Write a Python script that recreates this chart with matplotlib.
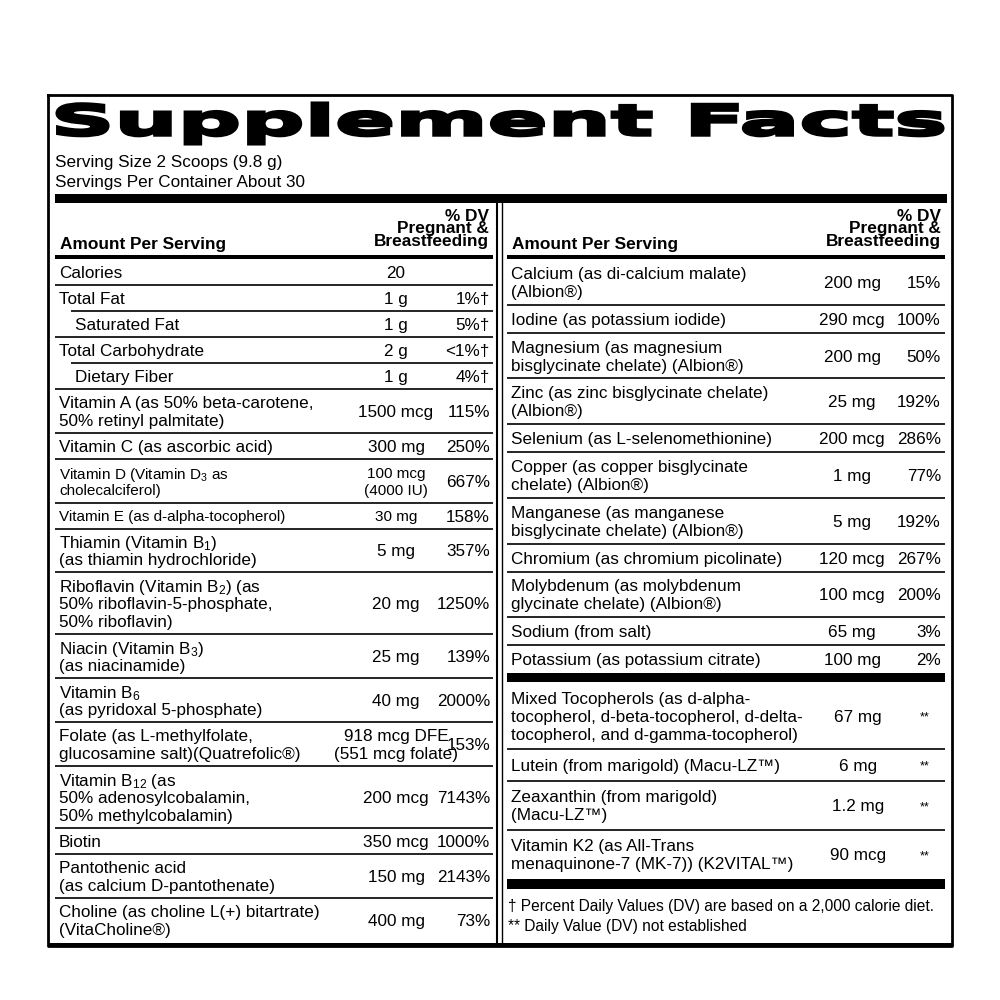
import matplotlib.pyplot as plt
from matplotlib.textpath import TextPath
from matplotlib.patches import PathPatch, Rectangle
from matplotlib.font_manager import FontProperties
from matplotlib.transforms import Affine2D

plt.rcParams['font.family'] = ['Liberation Sans', 'DejaVu Sans']
plt.rcParams['mathtext.fontset'] = 'custom'
plt.rcParams['mathtext.rm'] = 'Liberation Sans'
plt.rcParams['mathtext.it'] = 'Liberation Sans'

title = "Supplement Facts"
serving = ["Serving Size 2 Scoops (9.8 g)", "Servings Per Container About 30"]

left_names = [
    "Calories", "Total Fat", "Saturated Fat", "Total Carbohydrate", "Dietary Fiber",
    "Vitamin A (as 50% beta-carotene,\n50% retinyl palmitate)",
    "Vitamin C (as ascorbic acid)",
    "Vitamin D (Vitamin D$_3$ as\ncholecalciferol)",
    "Vitamin E (as d-alpha-tocopherol)",
    "Thiamin (Vitamin B$_1$)\n(as thiamin hydrochloride)",
    "Riboflavin (Vitamin B$_2$) (as\n50% riboflavin-5-phosphate,\n50% riboflavin)",
    "Niacin (Vitamin B$_3$)\n(as niacinamide)",
    "Vitamin B$_6$\n(as pyridoxal 5-phosphate)",
    "Folate (as L-methylfolate,\nglucosamine salt)(Quatrefolic®)",
    "Vitamin B$_{12}$ (as\n50% adenosylcobalamin,\n50% methylcobalamin)",
    "Biotin",
    "Pantothenic acid\n(as calcium D-pantothenate)",
    "Choline (as choline L(+) bitartrate)\n(VitaCholine®)",
]
left_amounts = ["20", "1 g", "1 g", "2 g", "1 g", "1500 mcg", "300 mg", "100 mcg\n(4000 IU)",
                "30 mg", "5 mg", "20 mg", "25 mg", "40 mg", "918 mcg DFE\n(551 mcg folate)",
                "200 mcg", "350 mcg", "150 mg", "400 mg"]
left_dv = ["", "1%†", "5%†", "<1%†", "4%†", "115%", "250%", "667%", "158%", "357%",
           "1250%", "139%", "2000%", "153%", "7143%", "1000%", "2143%", "73%"]
left_indent = {2, 4}
left_small = {7, 8}

right_names = [
    "Calcium (as di-calcium malate)\n(Albion®)",
    "Iodine (as potassium iodide)",
    "Magnesium (as magnesium\nbisglycinate chelate) (Albion®)",
    "Zinc (as zinc bisglycinate chelate)\n(Albion®)",
    "Selenium (as L-selenomethionine)",
    "Copper (as copper bisglycinate\nchelate) (Albion®)",
    "Manganese (as manganese\nbisglycinate chelate) (Albion®)",
    "Chromium (as chromium picolinate)",
    "Molybdenum (as molybdenum\nglycinate chelate) (Albion®)",
    "Sodium (from salt)",
    "Potassium (as potassium citrate)",
]
right_amounts = ["200 mg", "290 mcg", "200 mg", "25 mg", "200 mcg", "1 mg", "5 mg",
                 "120 mcg", "100 mcg", "65 mg", "100 mg"]
right_dv = ["15%", "100%", "50%", "192%", "286%", "77%", "192%", "267%", "200%", "3%", "2%"]

other_names = [
    "Mixed Tocopherols (as d-alpha-\ntocopherol, d-beta-tocopherol, d-delta-\ntocopherol, and d-gamma-tocopherol)",
    "Lutein (from marigold) (Macu-LZ™)",
    "Zeaxanthin (from marigold)\n(Macu-LZ™)",
    "Vitamin K2 (as All-Trans\nmenaquinone-7 (MK-7)) (K2VITAL™)",
]
other_amounts = ["67 mg", "6 mg", "1.2 mg", "90 mcg"]
other_dv = ["**", "**", "**", "**"]

footnotes = ["† Percent Daily Values (DV) are based on a 2,000 calorie diet.",
             "** Daily Value (DV) not established"]

fig = plt.figure(figsize=(10, 10), dpi=100)
ax = fig.add_axes([0, 0, 1, 1])
ax.set_xlim(0, 1000)
ax.set_ylim(1000, 0)
ax.axis('off')

FS = 12.3
LH = 18.0


def hline(x0, x1, y, lw=1.0):
    ax.plot([x0, x1], [y, y], color='black', lw=lw, solid_capstyle='butt')


def bar(x0, x1, y0, y1):
    ax.add_patch(Rectangle((x0, y0), x1 - x0, y1 - y0, color='black', lw=0))


def lines_text(x, yc, s, fs, ha, lh):
    parts = s.split("\n")
    n = len(parts)
    for k, p in enumerate(parts):
        ax.text(x, yc + (k - (n - 1) / 2) * lh, p, fontsize=fs, va='center_baseline', ha=ha)


def table(names, amounts, dvs, x0, x1, y0, y1, xa, xd, indent=(), small=(), dv_center=None):
    nl = [n.count("\n") + 1 for n in names]
    pad = (y1 - y0 - LH * sum(nl)) / len(names)
    y = y0
    for i, (n, a, d) in enumerate(zip(names, amounts, dvs)):
        h = pad + LH * nl[i]
        yc = y + h / 2
        fs = 11.0 if i in small else FS
        lh = 17 if i in small else LH
        xi = x0 + 4 + (16 if i in indent else 0)
        lines_text(xi, yc, n, fs, 'left', lh)
        lines_text(xa, yc, a, fs, 'center', lh)
        if dv_center is not None:
            ax.text(dv_center, yc + 2, d, fontsize=9, va='center', ha='center')
        else:
            ax.text(xd, yc, d, fontsize=FS, va='center_baseline', ha='right')
        y += h
        if i < len(names) - 1:
            xs = x0 + (16 if (i + 1) in indent else 0)
            hline(xs, x1, y, 1.2)
    return y


# outer frame
ax.plot([48, 952, 952, 48, 48], [95, 95, 946, 946, 95], color='black', lw=2)
bar(48, 952, 943, 947)

# title stretched to width
fp = FontProperties(family='DejaVu Sans', weight='heavy')
tp = TextPath((0, 0), title, size=100, prop=fp)
bb = tp.get_extents()
sx = (943 - 57) / bb.width
sy = (144 - 103) / bb.height
tr = Affine2D().translate(-bb.x0, -bb.y0).scale(sx, -sy).translate(57, 144)
ax.add_patch(PathPatch(tr.transform_path(tp), facecolor='black', edgecolor='black', lw=2.2))

ax.text(55, 163, serving[0], fontsize=12.3, va='center')
ax.text(55, 182, serving[1], fontsize=12.3, va='center')
bar(55, 947, 194, 203)

# column divider
ax.plot([497, 497], [203, 946], color='black', lw=1.5)
ax.plot([502, 502], [203, 946], color='black', lw=1.0)

# headers
for xl, xr in [(55, 493), (507, 945)]:
    ax.text(xl + 5, 244, "Amount Per Serving", fontsize=12.4, fontweight='bold', va='center')
    ax.text(xr - 4, 229, "% DV\nPregnant &\nBreastfeeding", fontsize=12.4, fontweight='bold',
            va='center', ha='right', linespacing=0.8)
    bar(xl, xr, 255, 259)

table(left_names, left_amounts, left_dv, 55, 493, 259, 942, 396, 490,
      indent=left_indent, small=left_small)
table(right_names, right_amounts, right_dv, 507, 945, 259, 673, 852, 941)
bar(507, 945, 673, 682)
table(other_names, other_amounts, other_dv, 507, 945, 682, 879, 858, 941, dv_center=925)
bar(507, 945, 879, 889)
ax.text(508, 906, footnotes[0], fontsize=11.2, va='center')
ax.text(508, 927, footnotes[1], fontsize=11.2, va='center')

fig.savefig("out.png", dpi=100, facecolor='white')
